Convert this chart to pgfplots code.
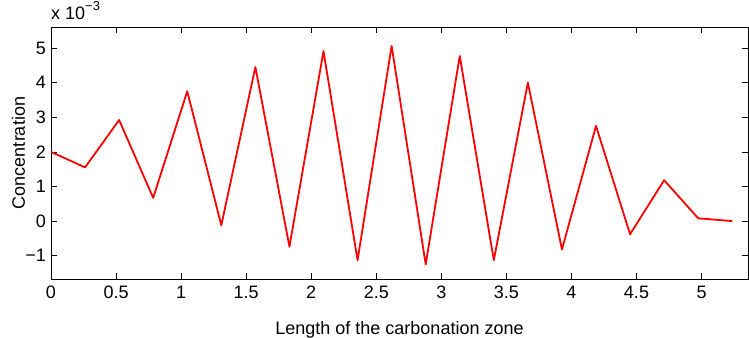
\documentclass[border=0pt]{standalone}
\usepackage{fontspec}
\setmainfont{Liberation Sans}
\usepackage{pgfplots}
\pgfplotsset{compat=1.18}
\begin{document}
\fontsize{18}{21}\selectfont
\begin{tikzpicture}
\begin{axis}[
  scale only axis,
  width=697pt, height=252pt,
  xmin=0, xmax=5.357, ymin=-1.673, ymax=5.607,
  xtick={0,0.5,1,1.5,2,2.5,3,3.5,4,4.5,5},
  xticklabels={0,0.5,1,1.5,2,2.5,3,3.5,4,4.5,5},
  ytick={-1,0,1,2,3,4,5},
  yticklabels={−1,0,1,2,3,4,5},
  tick align=inside,
  major tick length=6pt,
  tick style={black, line width=0.6pt},
  axis line style={line width=0.9pt},
  tick label style={font=\fontsize{18}{21}\selectfont},
  label style={font=\fontsize{18}{21}\selectfont},
  xticklabel style={yshift=-1pt},
  yticklabel style={xshift=1pt},
  xlabel={Length of the carbonation zone},
  ylabel={Concentration},
  xlabel style={yshift=-10pt},
  ylabel style={yshift=-12pt},
  clip=false,
]
\addplot[red, line width=1.8pt, line join=round] table {
x y
0.0000 2.00
0.2618 1.55
0.5236 2.92
0.7854 0.67
1.0472 3.75
1.3090 -0.12
1.5708 4.45
1.8326 -0.74
2.0944 4.91
2.3562 -1.13
2.6180 5.06
2.8798 -1.25
3.1416 4.77
3.4034 -1.13
3.6652 4.00
3.9270 -0.82
4.1888 2.75
4.4506 -0.38
4.7124 1.18
4.9742 0.08
5.2360 0.00
};
\node[anchor=base west, inner sep=0pt] at ([yshift=7pt]rel axis cs:0,1) {x 10\raisebox{0.5em}{\fontsize{13}{15}\selectfont −3}};
\end{axis}
\pgfresetboundingbox
\useasboundingbox ([xshift=-51pt,yshift=-59pt]current axis.south west) rectangle ([xshift=1pt,yshift=27pt]current axis.north east);
\end{tikzpicture}
\end{document}
